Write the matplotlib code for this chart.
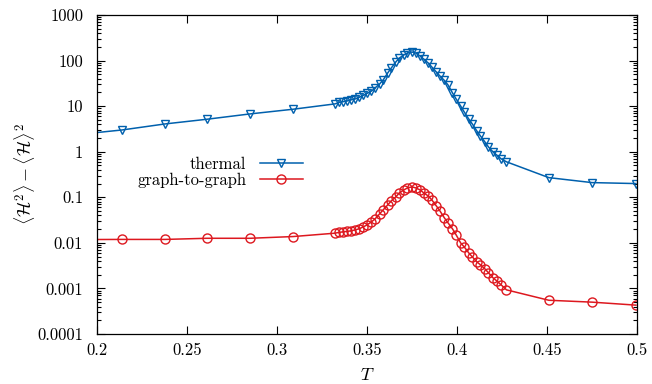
import matplotlib
matplotlib.use("Agg")
import matplotlib.pyplot as plt
from matplotlib.ticker import FixedLocator, FixedFormatter, LogLocator, NullFormatter

plt.rcParams['font.family'] = ['cmr10', 'DejaVu Serif']
plt.rcParams['mathtext.fontset'] = 'cm'
plt.rcParams['axes.formatter.use_mathtext'] = True

# Temperatures
T = [0.19, 0.2139, 0.2378, 0.2611, 0.285, 0.3089, 0.3322,
     0.3345, 0.3365, 0.3390, 0.3410, 0.3435, 0.3455, 0.3480, 0.3500, 0.3525, 0.3545,
     0.3570, 0.3590, 0.3615, 0.3635, 0.3660, 0.3680, 0.3705, 0.3725, 0.3750, 0.3770,
     0.3795, 0.3815, 0.3840, 0.3860, 0.3885, 0.3905, 0.3930, 0.3950, 0.3975, 0.3995,
     0.4020, 0.4040, 0.4065, 0.4085, 0.4110, 0.4130, 0.4155, 0.4175, 0.4200, 0.4220,
     0.4245, 0.4275,
     0.451, 0.475, 0.4994]

thermal = [2.4, 3.0, 4.07, 5.16, 6.75, 8.55, 11.2,
           12.05, 12.5, 13.0, 13.7, 14.4, 15.5, 17.2, 19.0, 21.5, 25.1,
           30.7, 37.6, 53.5, 68.8, 93.2, 114, 133, 147, 154, 147,
           126, 108, 88.5, 72.4, 56.2, 45.9, 36.6, 29.2, 19.5, 14.4,
           10.1, 7.46, 5.24, 4.07, 2.86, 2.22, 1.64, 1.27, 0.99, 0.85,
           0.70, 0.60,
           0.27, 0.21, 0.20]

graph = [0.0118, 0.0119, 0.0119, 0.0126, 0.0126, 0.01375, 0.0163,
         0.0170, 0.0174, 0.0179, 0.0183, 0.0193, 0.0203, 0.0224, 0.0248, 0.0289, 0.0336,
         0.0433, 0.0530, 0.0681, 0.0834, 0.102, 0.125, 0.145, 0.161, 0.169, 0.161,
         0.145, 0.125, 0.107, 0.0877, 0.0647, 0.0503, 0.0353, 0.0275, 0.0203, 0.0150,
         0.0100, 0.00817, 0.00604, 0.00493, 0.00383, 0.00330, 0.00269, 0.00220, 0.00171, 0.00147,
         0.00120, 0.00093,
         0.00055, 0.00050, 0.00043]

xticks = [0.2, 0.25, 0.3, 0.35, 0.4, 0.45, 0.5]
xticklabels = ['0.2', '0.25', '0.3', '0.35', '0.4', '0.45', '0.5']
yticks = [1e-4, 1e-3, 1e-2, 1e-1, 1, 10, 100, 1000]
yticklabels = ['0.0001', '0.001', '0.01', '0.1', '1', '10', '100', '1000']

blue = '#0060ad'
red = '#dd181f'

fig = plt.figure(figsize=(6.52, 3.84), dpi=100)
ax = fig.add_axes([97/652, 1-334/384, 540/652, 319/384])

ax.plot(T, thermal, color=blue, lw=1.1, marker='v', ms=5.8, mfc='none',
        mec=blue, mew=1.0, label='thermal')
ax.plot(T, graph, color=red, lw=1.1, marker='o', ms=6.5, mfc='none',
        mec=red, mew=1.0, label='graph-to-graph')

ax.set_yscale('log')
ax.set_xlim(0.2, 0.5)
ax.set_ylim(1e-4, 1e3)

ax.xaxis.set_major_locator(FixedLocator(xticks))
ax.xaxis.set_major_formatter(FixedFormatter(xticklabels))
ax.yaxis.set_major_locator(FixedLocator(yticks))
ax.yaxis.set_major_formatter(FixedFormatter(yticklabels))
ax.yaxis.set_minor_locator(LogLocator(base=10, subs=range(2, 10), numticks=20))
ax.yaxis.set_minor_formatter(NullFormatter())

ax.tick_params(which='both', direction='in', top=True, right=True, labelsize=12)
ax.tick_params(which='major', length=6, width=0.8)
ax.tick_params(which='minor', length=3, width=0.8)
ax.tick_params(axis='x', pad=6)
ax.tick_params(axis='y', pad=10)
for s in ax.spines.values():
    s.set_linewidth(0.9)

ax.set_xlabel(r'$T$', fontsize=13, labelpad=7)
ax.set_ylabel(r'$\langle \mathcal{H}^2\rangle - \langle \mathcal{H}\rangle^2$', fontsize=13, labelpad=0)

leg = ax.legend(loc='center', bbox_to_anchor=(0.228, 0.506), frameon=False,
                markerfirst=False, fontsize=12, handlelength=2.6, handletextpad=0.8,
                labelspacing=0.05, borderpad=0, borderaxespad=0)

fig.savefig('out.png', dpi=100)
